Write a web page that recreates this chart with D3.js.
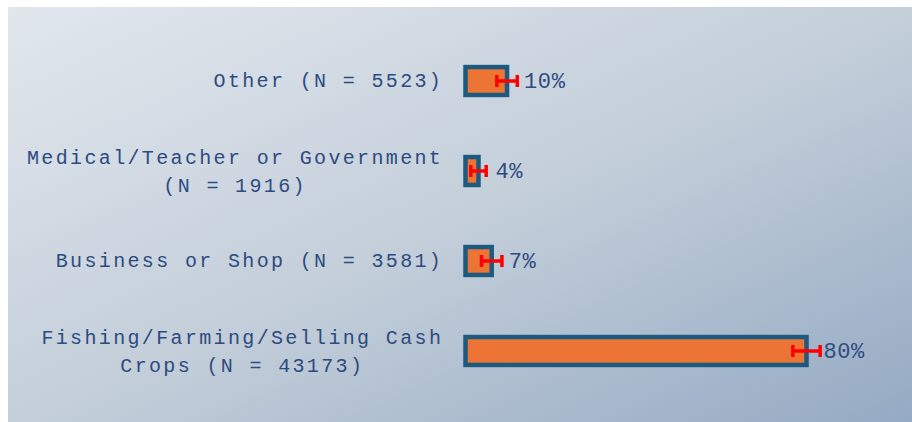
<!DOCTYPE html>
<html>
<head>
<meta charset="utf-8">
<script src="https://cdn.jsdelivr.net/npm/d3@7"></script>
<style>
  html, body { margin: 0; padding: 0; background: #ffffff; }
  svg { display: block; }
</style>
</head>
<body>
<svg id="chart" width="912" height="422"></svg>
<script>
// ---- data (top to bottom) ----
const categories = [
  "Other (N = 5523)",
  "Medical/Teacher or Government (N = 1916)",
  "Business or Shop (N = 3581)",
  "Fishing/Farming/Selling Cash Crops (N = 43173)"
];
const labelLines = [
  ["Other (N = 5523)"],
  ["Medical/Teacher or Government", "(N = 1916)"],
  ["Business or Shop (N = 3581)"],
  ["Fishing/Farming/Selling Cash", "Crops (N = 43173)"]
];
const values = [9.75, 3.05, 6.15, 80.0];      // percent (bar lengths as read)
const errors = [2.4, 1.8, 2.4, 3.2];           // +/- percent
const valueLabels = ["10%", "4%", "7%", "80%"];

// ---- layout ----
const W = 912, H = 422;
const svg = d3.select("#chart");
const textColor = "#2d4b80";
const font = "'Courier New', 'Liberation Mono', monospace";
const catSize = 20, catLS = 2.35, charAdv = catSize * 0.6 + catLS;
const labelRight = 442;

const defs = svg.append("defs");
const grad = defs.append("linearGradient").attr("id", "bg")
  .attr("x1", "0%").attr("y1", "0%").attr("x2", "100%").attr("y2", "100%");
grad.append("stop").attr("offset", "0%").attr("stop-color", "#e2e7ee");
grad.append("stop").attr("offset", "50%").attr("stop-color", "#c4cfda");
grad.append("stop").attr("offset", "100%").attr("stop-color", "#95aac3");

svg.append("rect").attr("x", 8).attr("y", 7).attr("width", W - 8).attr("height", H - 7)
  .attr("fill", "url(#bg)");

const x = d3.scaleLinear().domain([0, 100]).range([465.5, 465.5 + 426.25]);
const y = d3.scaleBand().domain(categories).range([36, 396])
  .paddingInner(0.69).paddingOuter(0.345);

const g = svg.append("g");

// bars
g.selectAll("rect.bar").data(categories).join("rect")
  .attr("class", "bar")
  .attr("x", x(0))
  .attr("y", d => y(d))
  .attr("width", (d, i) => x(values[i]) - x(0))
  .attr("height", y.bandwidth())
  .attr("fill", "#ec7434")
  .attr("stroke", "#1d5a80")
  .attr("stroke-width", 4.5);

// error bars
const eb = g.selectAll("g.err").data(categories).join("g").attr("class", "err")
  .attr("transform", d => `translate(0,${y(d) + y.bandwidth() / 2})`);
eb.append("line")
  .attr("x1", (d, i) => x(values[i] - errors[i]))
  .attr("x2", (d, i) => x(values[i] + errors[i]))
  .attr("y1", 0).attr("y2", 0)
  .attr("stroke", "#ff0000").attr("stroke-width", 3.5);
eb.append("line")
  .attr("x1", (d, i) => x(values[i] - errors[i]))
  .attr("x2", (d, i) => x(values[i] - errors[i]))
  .attr("y1", -6).attr("y2", 6)
  .attr("stroke", "#ff0000").attr("stroke-width", 3.5);
eb.append("line")
  .attr("x1", (d, i) => x(values[i] + errors[i]))
  .attr("x2", (d, i) => x(values[i] + errors[i]))
  .attr("y1", -6).attr("y2", 6)
  .attr("stroke", "#ff0000").attr("stroke-width", 3.5);

// value labels
g.selectAll("text.val").data(categories).join("text")
  .attr("class", "val")
  .attr("x", (d, i) => x(values[i]) + 17)
  .attr("y", d => y(d) + y.bandwidth() / 2 + 7)
  .attr("font-family", font)
  .attr("font-size", 22)
  .attr("letter-spacing", 0.6)
  .attr("fill", textColor)
  .text((d, i) => valueLabels[i]);

// category labels (block right-aligned, lines centered inside block)
categories.forEach((c, i) => {
  const lines = labelLines[i];
  const maxChars = d3.max(lines, l => l.length);
  const blockLeft = labelRight - maxChars * charAdv;
  const cy = y(c) + y.bandwidth() / 2;
  const n = lines.length;
  lines.forEach((l, j) => {
    g.append("text")
      .attr("x", blockLeft + (maxChars - l.length) * charAdv / 2 + catLS / 2)
      .attr("y", cy + 6 + (j - (n - 1) / 2) * 27.4 + (n > 1 ? 1 : 0))
      .attr("font-family", font)
      .attr("font-size", catSize)
      .attr("letter-spacing", catLS)
      .attr("fill", textColor)
      .text(l);
  });
});
</script>
</body>
</html>
